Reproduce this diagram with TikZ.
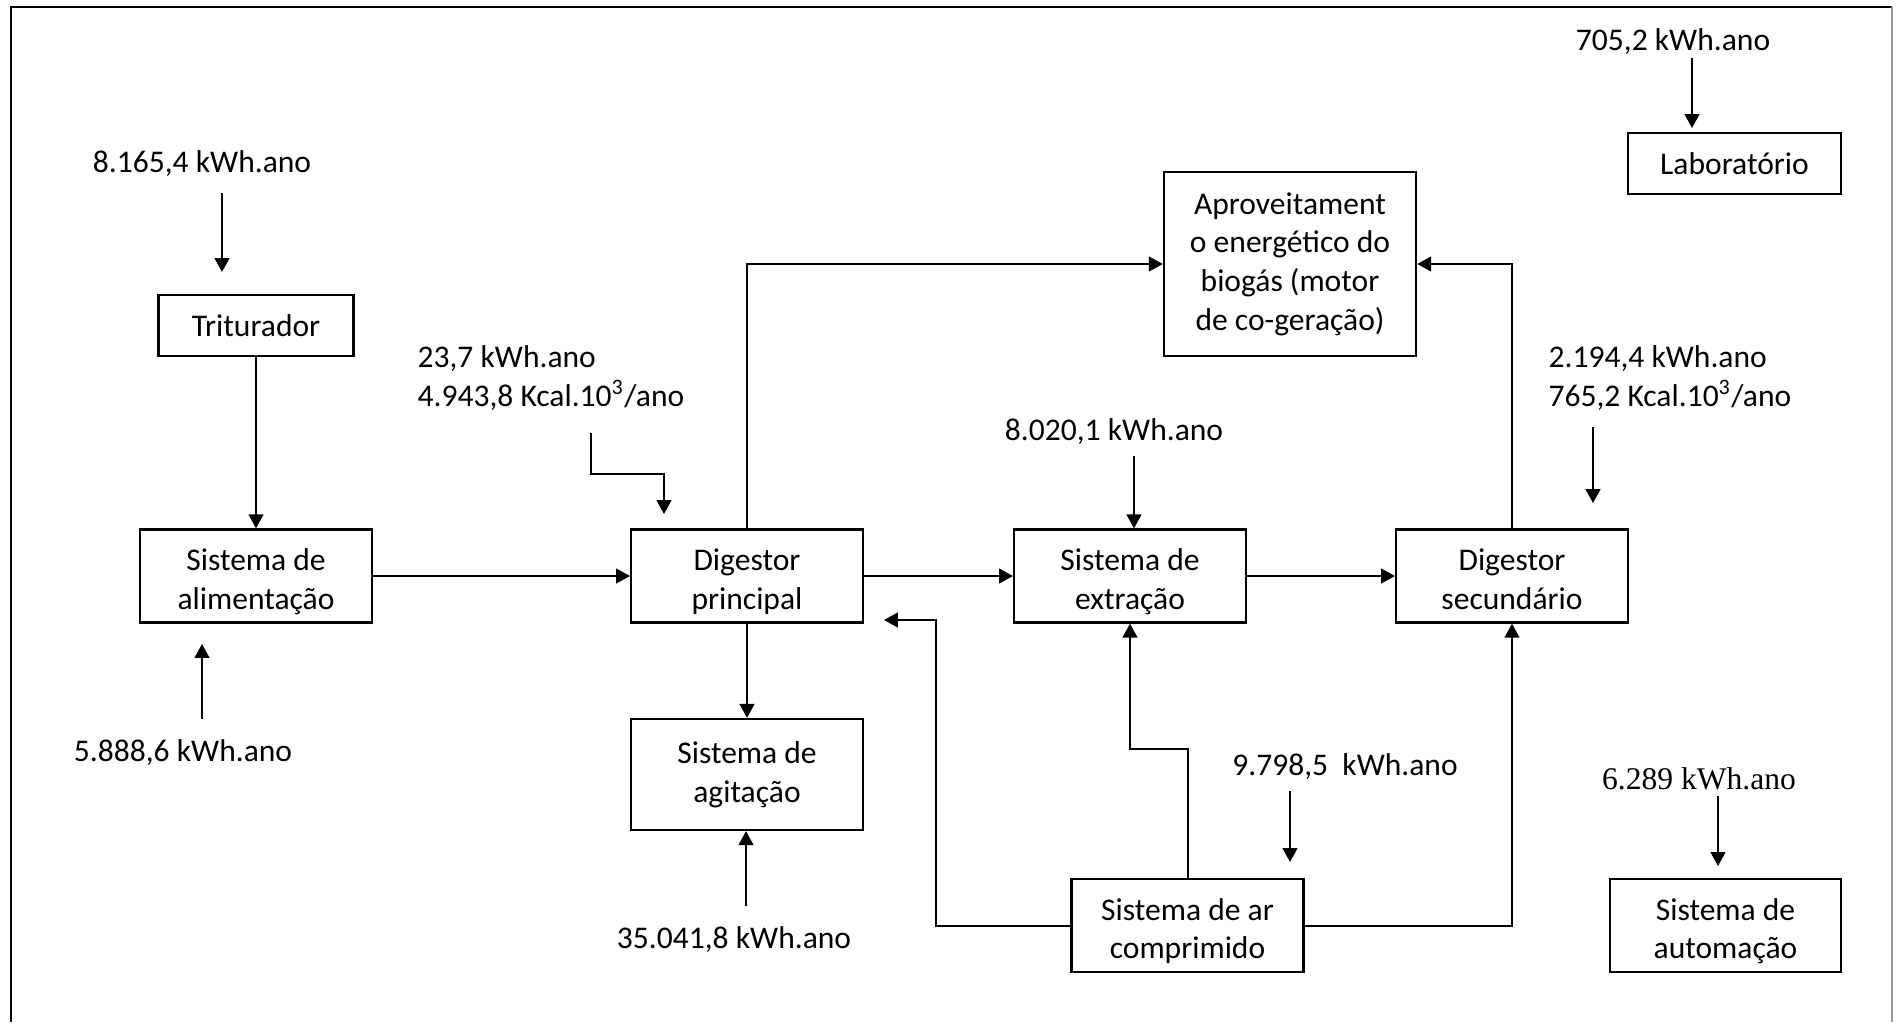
\documentclass[tikz,border=0pt]{standalone}
\usepackage{fontspec}
\setmainfont{Carlito}
\newfontfamily\timesfont{Liberation Serif}
\usepackage{tikz}
\usetikzlibrary{arrows.meta,positioning}
\tikzset
{
    blocknode/.style = {rectangle, draw=black, line width=0.8pt, align=center, minimum width=2.84cm, minimum height=1.14cm, inner sep=1pt},
    twoline/.style   = {blocknode, text height=25.4pt, text depth=2.2pt},
    valuenode/.style = {align=left, inner sep=0pt, anchor=base},
    flowline/.style  = {line width=0.7pt},
    flowarrow/.style = {line width=0.7pt, -{Triangle[length=0.17cm, width=0.18cm]}}
}

\begin{document}
\begin{tikzpicture}
	[x=0.01225cm, y=-0.01225cm, font=\fontsize{11}{13.5}\selectfont]
	\useasboundingbox (0,0) rectangle (1897,1022);
	\draw[line width=0.8pt] (11,1022) -- (11,7) -- (1892,7);
	\draw[black!40, line width=0.5pt] (1892,7) -- (1892,1022);

	\node[blocknode, minimum width=2.39cm, minimum height=0.75cm] (triturador) at (256,325.5) {Triturador};
	\node[twoline] (alimentacao) at (256,576) {Sistema de\\alimentação};
	\node[twoline] (digprinc) at (747,576) {Digestor\\principal};
	\node[blocknode, minimum height=1.36cm] (agitacao) at (747,774.5) {Sistema de\\agitação};
	\node[blocknode, minimum width=3.09cm, minimum height=2.25cm] (aproveit) at (1290,264) {Aproveitament\\o energético do\\biogás (motor\\de co-geração)};
	\node[twoline] (extracao) at (1130,576) {Sistema de\\extração};
	\node[twoline] (digsec) at (1512,576) {Digestor\\secundário};
	\node[twoline] (arcomp) at (1187.5,925.5) {Sistema de ar\\comprimido};
	\node[blocknode, minimum width=2.61cm, minimum height=0.75cm] (laborat) at (1734.5,163.5) {Laboratório};
	\node[twoline, minimum width=2.83cm] (automacao) at (1725.5,925.5) {Sistema de\\automação};

	\node[valuenode] (vtrit) at (202,172) {8.165,4 kWh.ano};
	\node[valuenode, anchor=base west] (vdigprinc) at (417,406) {23,7 kWh.ano\\4.943,8 Kcal.10\textsuperscript{3}/ano};
	\node[valuenode] (vlab) at (1673,50) {705,2 kWh.ano};
	\node[valuenode, anchor=base west] (vdigsec) at (1548,406) {2.194,4 kWh.ano\\765,2 Kcal.10\textsuperscript{3}/ano};
	\node[valuenode] (vextr) at (1114,440) {8.020,1 kWh.ano};
	\node[valuenode] (valim) at (183,761) {5.888,6 kWh.ano};
	\node[valuenode] (vagit) at (734,948) {35.041,8 kWh.ano};
	\node[valuenode] (var) at (1345,775) {9.798,5\ \ kWh.ano};
	\node[valuenode, font=\timesfont\fontsize{11}{13.5}\selectfont] (vauto) at (1699,789) {6.289 kWh.ano};

	\coordinate (intrit) at (222,193);
	\coordinate (inalim) at (202,719);
	\coordinate (indp) at (591,433);
	\coordinate (inagit) at (746,906);
	\coordinate (inextr) at (1134,456);
	\coordinate (inds) at (1593,427);
	\coordinate (inar) at (1290,791);
	\coordinate (inauto) at (1718,796);
	\coordinate (inlab) at (1692,58);
	\coordinate (retdp) at (884,620);

	\draw[flowarrow] (intrit) -- ++(0,79);
	\draw[flowarrow] (inalim) -- ++(0,-75);
	\draw[flowarrow] (indp) -- ++(0,41) -- ++(73,0) -- ++(0,40);
	\draw[flowarrow] (inagit) -- (inagit |- agitacao.south);
	\draw[flowarrow] (inextr) -- (inextr |- extracao.north);
	\draw[flowarrow] (inds) -- ++(0,76);
	\draw[flowarrow] (inar) -- ++(0,71);
	\draw[flowarrow] (inauto) -- ++(0,70);
	\draw[flowarrow] (inlab) -- ++(0,70);

	\draw[flowarrow] (triturador) -- (alimentacao);
	\draw[flowarrow] (alimentacao) -- (digprinc);
	\draw[flowarrow] (digprinc) -- (extracao);
	\draw[flowarrow] (extracao) -- (digsec);
	\draw[flowarrow] (digprinc) -- (agitacao);
	\draw[flowarrow] (digprinc.north) |- (aproveit.west);
	\draw[flowarrow] (digsec.north) |- (aproveit.east);
	\draw[flowarrow] (arcomp.west) -| ([xshift=0.64cm]retdp) -- (retdp);
	\draw[flowarrow] (arcomp.north) -- ++(0,-129) -| (extracao.south);
	\draw[flowarrow] (arcomp.east) -| (digsec.south);
	\end{tikzpicture}
\end{document}
